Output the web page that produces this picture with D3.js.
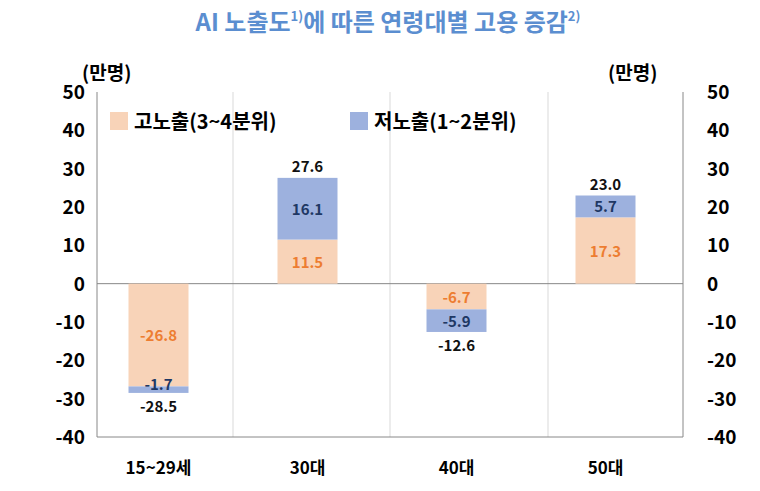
<!DOCTYPE html><html><head><meta charset="utf-8"><script src="https://cdn.jsdelivr.net/npm/d3@7"></script>
<style>body{margin:0;background:#fff}text{font-family:"Noto Sans CJK KR","Noto Sans",sans-serif}</style></head><body>
<svg id="c" width="760" height="491"></svg>
<script>
const categories=["15~29세","30대","40대","50대"];
const highExposure=[-26.8,11.5,-6.7,17.3];
const lowExposure=[-1.7,16.1,-5.9,5.7];
const totals=[-28.5,27.6,-12.6,23.0];
const yTicks=[50,40,30,20,10,0,-10,-20,-30,-40];
const svg=d3.select("#c");
const y=d3.scaleLinear().domain([-40,50]).range([437,92]);
const x=d3.scaleBand().domain(categories).range([84,680]);
const L=97,R=683,bw=60;
const cHigh="#f8d3b8",cLow="#9db1de";
[L,233,390,548,R].forEach(v=>svg.append("line").attr("x1",v).attr("x2",v).attr("y1",92).attr("y2",437).attr("stroke",v==L||v==R?"#888":"#d9d9d9"));
svg.append("line").attr("x1",L).attr("x2",R).attr("y1",y(0)).attr("y2",y(0)).attr("stroke","#888");
svg.append("line").attr("x1",L).attr("x2",R).attr("y1",y(-40)).attr("y2",y(-40)).attr("stroke","#888");
yTicks.forEach(t=>{
 svg.append("text").attr("x",L-12).attr("y",y(t)+7).attr("text-anchor","end").attr("font-size",19).attr("font-weight","bold").text(t);
 svg.append("text").attr("x",R+24).attr("y",y(t)+7).attr("font-size",19).attr("font-weight","bold").text(t);
});
svg.append("text").attr("x",82).attr("y",80).attr("font-size",19).attr("font-weight","bold").text("(만명)");
svg.append("text").attr("x",608).attr("y",80).attr("font-size",19).attr("font-weight","bold").text("(만명)");
categories.forEach((c,i)=>{
 const cx=x(c)+x.bandwidth()/2, h=highExposure[i], l=lowExposure[i];
 svg.append("rect").attr("x",cx-bw/2).attr("width",bw).attr("y",y(Math.max(0,h))).attr("height",Math.abs(y(h)-y(0))).attr("fill",cHigh);
 svg.append("rect").attr("x",cx-bw/2).attr("width",bw).attr("y",y(Math.max(h,h+l))).attr("height",Math.abs(y(h+l)-y(h))).attr("fill",cLow);
 svg.append("text").attr("x",cx).attr("y",y(h/2)+6).attr("text-anchor","middle").attr("font-size",15).attr("font-weight","bold").attr("fill","#ed7d31").text(h.toFixed(1));
 svg.append("text").attr("x",cx).attr("y",y(h+l/2)+(Math.abs(l)<3?0:6)).attr("text-anchor","middle").attr("font-size",15).attr("font-weight","bold").attr("fill","#1f3864").text(l.toFixed(1));
 const t=totals[i];
 svg.append("text").attr("x",cx).attr("y",t>0?y(t)-6:y(t)+19).attr("text-anchor","middle").attr("font-size",15).attr("font-weight","bold").attr("fill","#111").text(t.toFixed(1));
 svg.append("text").attr("x",cx).attr("y",474).attr("text-anchor","middle").attr("font-size",17).attr("font-weight","bold").text(c);
});
svg.append("rect").attr("x",110).attr("y",112).attr("width",18).attr("height",18).attr("fill",cHigh);
svg.append("text").attr("x",134).attr("y",129).attr("font-size",20).attr("font-weight","bold").text("고노출(3~4분위)");
svg.append("rect").attr("x",350).attr("y",112).attr("width",18).attr("height",18).attr("fill",cLow);
svg.append("text").attr("x",374).attr("y",129).attr("font-size",20).attr("font-weight","bold").text("저노출(1~2분위)");
const ti=svg.append("text").attr("x",388).attr("y",31).attr("text-anchor","middle").attr("font-size",24).attr("font-weight","bold").attr("fill","#5b8ed0");
ti.append("tspan").text("AI 노출도");
ti.append("tspan").attr("font-size",13).attr("dy",-10).text("1)");
ti.append("tspan").attr("dy",10).text("에 따른 연령대별 고용 증감");
ti.append("tspan").attr("font-size",13).attr("dy",-10).text("2)");
</script></body></html>
